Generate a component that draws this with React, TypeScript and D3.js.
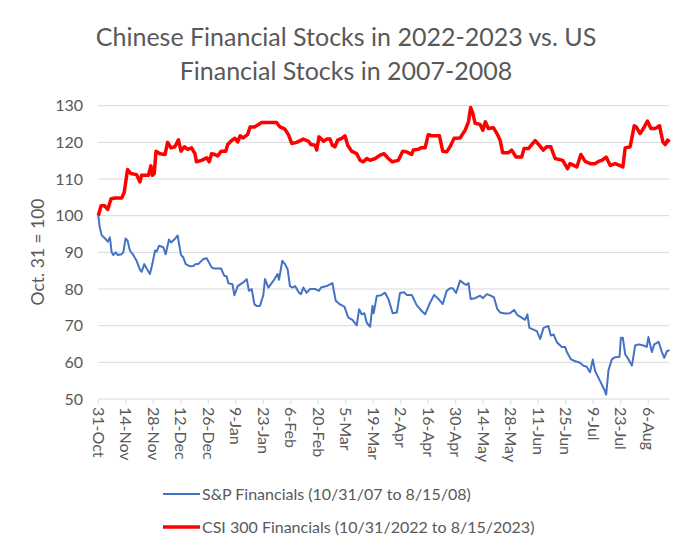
import React from "react";
import * as d3 from "d3";

// Day offsets from 31-Oct and index values (Oct. 31 = 100)
const spDays = [0,0.7,1.7,3.4,4.8,5.9,6.8,7.6,8.8,9.9,11.9,12.7,13.9,14.9,16.1,17.8,19.5,21.2,22.1,23.4,24.6,26.3,27.5,28.9,29.7,30.9,33.1,34.3,36,37,38.7,40.4,42.1,43.3,44.5,46.7,48.4,49.6,50.9,53.5,55.2,57.7,59.1,62.5,64.2,65.4,66.2,68.3,69.3,71,73.8,75.6,76.7,78.1,79.5,80.6,82.3,84,84.9,86.6,89.1,91.3,92,93.7,95.1,96.4,97.6,98.8,100.2,102.2,103.2,104.4,106.1,107.8,110.4,112.4,113.4,116.3,119.2,120.9,123.1,125.3,127.3,129.4,131.6,132.8,134.1,135.5,136.7,138.4,139.6,140.2,141.8,144,146,147.7,149.9,152,153.6,155.7,157,159.6,162.1,164.7,166.4,168.6,171,173.2,175.4,177.4,179.1,180.5,182.2,184.2,185.9,187.3,188.5,189.6,191.9,194.4,195.8,197.8,199.8,201.5,203.2,204.6,207.1,209.6,211.7,213.4,215.6,217.3,218.5,219.5,221.3,223.3,225,226.7,229.2,230.4,231.8,233.5,236,237.7,238.6,240.7,242.9,245.3,247,248.7,250.4,251.8,253,255.6,257.6,258.6,259.8,261.5,263.2,265.4,266.1,267.1,268.3,270,271.7,273.4,275.1,277.6,279.3,280.1,281.9,283.1,285.3,287,288.2,289.6,290.9];
const spVals = [100,97,94.7,93.8,92.9,94.1,90,89.3,90,89.3,89.5,90,93.8,93.2,90.5,89.3,87.7,85.3,84.7,86.8,85.6,84.1,86.8,90.5,90.2,91.8,91.4,89.5,93.5,92.7,93.5,94.6,89.3,88.6,86.8,86.2,86.3,86.8,86.8,88.2,88.4,85.9,85.6,85.6,83.6,83.4,81.6,81.3,78.3,80.8,81.8,82.7,79.5,80,75.8,75.4,75.4,78.3,82.7,80.4,82.2,84.1,82.5,87.7,86.8,85.4,80.8,80.4,80.8,79,78.6,80.4,79,80,80,79.5,80.4,80.8,81.6,76.8,75.8,75.2,72.2,71.6,70.1,74.5,73.1,73.4,70.8,69.7,75.4,73.4,78.1,78.3,79,77.3,73.4,73.6,78.9,79.1,78.4,78.4,75.6,74,73.1,75.9,78.4,77.3,75.9,79.5,80.2,80.2,78.9,82.3,81.6,81.1,81.6,77.3,77.5,78.2,77.5,78.6,78.2,77.7,74.5,73.6,73.3,73.4,74.3,72.9,72.2,71.6,73.1,69.4,69,68.5,66.4,69.4,69.9,67.3,67.6,65.5,64.2,64.2,62.8,60.8,60.3,59.9,59.1,58.8,57.3,60.8,57.6,54.8,52.6,51.2,57.9,60.8,61.4,61.5,66.7,66.7,62.2,60.8,59.1,64.6,64.9,64.6,64.2,66.9,62.8,64.9,65.6,62.8,61.2,63.1,63.3];

const csiDays = [0,1.4,3,4.8,6.5,8.8,11.9,13.2,14.9,16.6,19.5,21.2,22,25.5,26.8,27.5,28.5,29.4,31.4,34,35.3,37,39,40.8,42.1,43.8,45.5,47.5,49.2,50,52.6,55.2,56.5,57.7,59.4,60.8,62.5,64.9,65.9,67.9,69.6,71,72.2,73.8,76,77.3,79.5,83.2,90.8,92.5,95,96.8,98.5,101,104.4,107,108.3,110.4,111.2,112.4,114.7,116.3,118,119.2,120.5,121.9,124,125.6,127,129,131.6,133.3,135,136.7,138.4,141,143.5,145.5,147.7,149.7,152.8,155,157,159.6,160.4,163,164.2,166.4,168,169.8,173.7,175.4,177.4,179.1,181.2,184.2,186.8,188.5,189.6,190.7,191.9,194.4,195.8,197.1,198.6,201.2,203.2,204.6,205.9,208.8,210.5,212.7,215.6,216.8,219,222.4,224.6,226.6,228.3,230.4,232.6,236.5,238.9,240.2,243.7,245.7,247.9,250.5,253,254.7,256.4,258.6,260.7,263.2,265.4,267.1,268.3,270.8,272.9,273.9,275.9,278,279.6,281.4,283.6,285.8,287.5,288.7,289.9,290.9];
const csiVals = [100,102.7,102.8,101.7,104.6,104.8,104.8,106.4,112.6,111.5,111.2,109.2,111,111,113.6,111,111.5,117.6,116.9,116.7,120,118.5,118.8,120.7,117.6,118.8,118.1,118.5,116.9,114.7,115.1,115.8,114.7,116.9,116.7,116.3,117.6,117.6,119.4,120.5,121.1,120.1,121.8,121.2,122.1,124.2,124.2,125.4,125.4,124.2,123.6,122.1,119.7,120,120.9,120.3,119.4,119.2,117.9,121.5,120.3,120.9,120.9,119.2,118.8,120.6,121.1,121.8,119.2,117.6,116.9,115.1,114.7,115.6,115.1,115.6,116.5,116.9,115.6,114.7,115.1,117.6,117.4,116.7,117.9,118.1,118.5,118.5,122.1,121.8,121.8,117.6,117.4,118.8,121.1,121.2,123.3,125.6,129.5,127.9,125.2,124.9,123.3,125.6,123.8,124,122.2,120.6,117.2,117.2,117.9,116,116,118.3,118.3,120.5,119.2,117.9,118.8,118.8,115.6,115.1,112.8,114.2,113.3,116.7,114.8,114.2,114.2,114.8,115.1,116,113.7,114.2,113.7,113.3,118.5,118.8,124.5,124.2,122.4,124.2,125.8,123.8,123.8,124.5,120.1,119.4,120.6,120.1];

const xTickLabels = ["31-Oct","14-Nov","28-Nov","12-Dec","26-Dec","9-Jan","23-Jan","6-Feb","20-Feb","5-Mar","19-Mar","2-Apr","16-Apr","30-Apr","14-May","28-May","11-Jun","25-Jun","9-Jul","23-Jul","6-Aug"];
const yTicks = [50,60,70,80,90,100,110,120,130];
const titleLines = ["Chinese Financial Stocks in 2022-2023 vs. US", "Financial Stocks in 2007-2008"];
const seriesNames = ["S&P Financials (10/31/07 to 8/15/08)", "CSI 300 Financials (10/31/2022 to 8/15/2023)"];

const FONT = "Lato, 'Open Sans', sans-serif";
const TXT = "#595959";

export default function App() {
  const W = 690, H = 550;
  const x = d3.scaleLinear().domain([0, 290.6]).range([98.3, 669]);
  const y = d3.scaleLinear().domain([50, 130]).range([399, 105.7]);
  const line = d3.line<[number, number]>().x(d => x(d[0])).y(d => y(d[1]));
  const sp = spDays.map((d, i) => [d, spVals[i]] as [number, number]);
  const csi = csiDays.map((d, i) => [d, csiVals[i]] as [number, number]);

  return (
    <svg width={W} height={H} style={{ position: "absolute", left: 0, top: 0, background: "#fff" }} fontFamily={FONT}>
      <rect width={W} height={H} fill="#fff" />
      {titleLines.map((t, i) => (
        <text key={t} x={346} y={46 + i * 34} textAnchor="middle" fontSize={25} fill={TXT}>{t}</text>
      ))}
      {yTicks.map(v => (
        <g key={v}>
          {v > 50 && <line x1={x(0)} x2={x(290.6)} y1={y(v)} y2={y(v)} stroke="#d9d9d9" strokeWidth={1} />}
          <text x={83} y={y(v)} dy="0.35em" textAnchor="end" fontSize={16} fill={TXT}>{v}</text>
        </g>
      ))}
      <line x1={x(0)} x2={x(290.6)} y1={y(50)} y2={y(50)} stroke="#d9d9d9" strokeWidth={1} />
      {xTickLabels.map((lab, i) => (
        <g key={lab}>
          <line x1={x(i * 14)} x2={x(i * 14)} y1={y(50)} y2={y(50) + 5} stroke="#d9d9d9" />
          <text transform={`translate(${x(i * 14)},${y(50) + 8}) rotate(90)`} dy="0.35em" textAnchor="start" fontSize={16} fill={TXT}>{lab}</text>
        </g>
      ))}
      <text transform={`translate(38,252) rotate(-90)`} dy="0.35em" textAnchor="middle" fontSize={17.5} fill={TXT}>Oct. 31 = 100</text>
      <path d={line(sp) || ""} fill="none" stroke="#4472C4" strokeWidth={2} strokeLinejoin="round" />
      <path d={line(csi) || ""} fill="none" stroke="#FF0000" strokeWidth={3.5} strokeLinejoin="round" />
      <line x1={163} x2={200} y1={494} y2={494} stroke="#4472C4" strokeWidth={2} />
      <text x={202} y={494} dy="0.35em" fontSize={16} fill={TXT}>{seriesNames[0]}</text>
      <line x1={163} x2={200} y1={527} y2={527} stroke="#FF0000" strokeWidth={3.5} />
      <text x={202} y={527} dy="0.35em" fontSize={16} fill={TXT}>{seriesNames[1]}</text>
    </svg>
  );
}
